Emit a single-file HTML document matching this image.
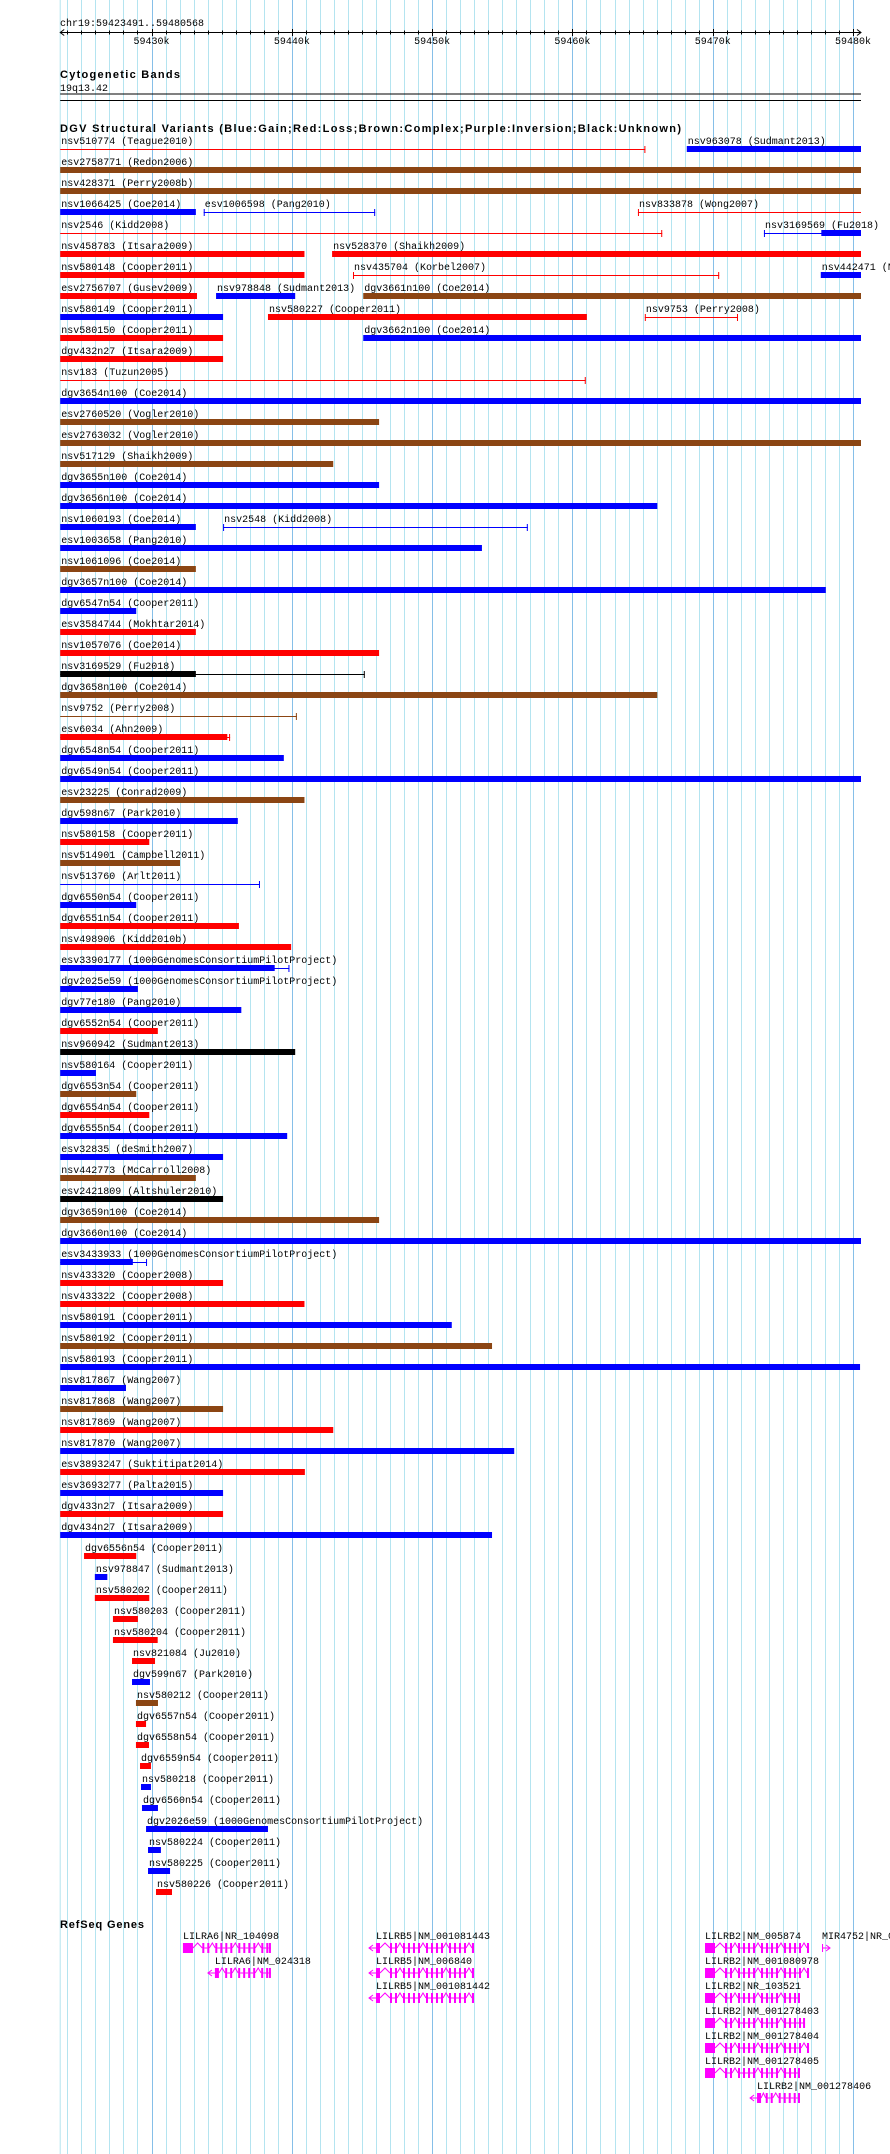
<!DOCTYPE html>
<html><head><meta charset="utf-8">
<style>
html,body{margin:0;padding:0;background:#fff;}
svg{display:block;}
text{font-family:"Liberation Mono","DejaVu Sans Mono",monospace;font-size:10px;fill:#000;}
.title{font-family:"Liberation Sans",sans-serif;font-weight:bold;font-size:11px;}
</style></head>
<body>
<svg id="chart" width="890" height="2154" viewBox="0 0 890 2154"></svg>
<script>
// ---- view ----
const viewStart = 59423.491, viewEnd = 59480.568; // kb
const tickLabels = ["59430k","59440k","59450k","59460k","59470k","59480k"];
const tickValues = [59430,59440,59450,59460,59470,59480];

// ---- DGV features ----
const S = 59423.491, E = 59480.568;
const featRows = [0,0,1,2,3,3,3,4,4,5,5,6,6,6,7,7,7,8,8,8,9,9,10,11,12,13,14,15,16,17,18,18,19,20,21,22,23,24,25,26,27,28,29,30,31,32,33,34,35,36,37,38,39,40,41,42,43,44,45,46,47,48,49,50,51,52,53,54,55,56,57,58,59,60,61,62,63,64,65,66,67,68,69,70,71,72,73,74,75,76,77,78,79,80,81,82,83];
const featNames = ["nsv510774","nsv963078","esv2758771","nsv428371","nsv1066425","esv1006598","nsv833878","nsv2546","nsv3169569","nsv458783","nsv528370","nsv580148","nsv435704","nsv442471","esv2756707","nsv978848","dgv3661n100","nsv580149","nsv580227","nsv9753","nsv580150","dgv3662n100","dgv432n27","nsv183","dgv3654n100","esv2760520","esv2763032","nsv517129","dgv3655n100","dgv3656n100","nsv1060193","nsv2548","esv1003658","nsv1061096","dgv3657n100","dgv6547n54","esv3584744","nsv1057076","nsv3169529","dgv3658n100","nsv9752","esv6034","dgv6548n54","dgv6549n54","esv23225","dgv598n67","nsv580158","nsv514901","nsv513760","dgv6550n54","dgv6551n54","nsv498906","esv3390177","dgv2025e59","dgv77e180","dgv6552n54","nsv960942","nsv580164","dgv6553n54","dgv6554n54","dgv6555n54","esv32835","nsv442773","esv2421809","dgv3659n100","dgv3660n100","esv3433933","nsv433320","nsv433322","nsv580191","nsv580192","nsv580193","nsv817867","nsv817868","nsv817869","nsv817870","esv3893247","esv3693277","dgv433n27","dgv434n27","dgv6556n54","nsv978847","nsv580202","nsv580203","nsv580204","nsv821084","dgv599n67","nsv580212","dgv6557n54","dgv6558n54","dgv6559n54","nsv580218","dgv6560n54","dgv2026e59","nsv580224","nsv580225","nsv580226"];
const featSources = ["Teague2010","Sudmant2013","Redon2006","Perry2008b","Coe2014","Pang2010","Wong2007","Kidd2008","Fu2018","Itsara2009","Shaikh2009","Cooper2011","Korbel2007","Nguyen2006","Gusev2009","Sudmant2013","Coe2014","Cooper2011","Cooper2011","Perry2008","Cooper2011","Coe2014","Itsara2009","Tuzun2005","Coe2014","Vogler2010","Vogler2010","Shaikh2009","Coe2014","Coe2014","Coe2014","Kidd2008","Pang2010","Coe2014","Coe2014","Cooper2011","Mokhtar2014","Coe2014","Fu2018","Coe2014","Perry2008","Ahn2009","Cooper2011","Cooper2011","Conrad2009","Park2010","Cooper2011","Campbell2011","Arlt2011","Cooper2011","Cooper2011","Kidd2010b","1000GenomesConsortiumPilotProject","1000GenomesConsortiumPilotProject","Pang2010","Cooper2011","Sudmant2013","Cooper2011","Cooper2011","Cooper2011","Cooper2011","deSmith2007","McCarroll2008","Altshuler2010","Coe2014","Coe2014","1000GenomesConsortiumPilotProject","Cooper2008","Cooper2008","Cooper2011","Cooper2011","Cooper2011","Wang2007","Wang2007","Wang2007","Wang2007","Suktitipat2014","Palta2015","Itsara2009","Itsara2009","Cooper2011","Sudmant2013","Cooper2011","Cooper2011","Cooper2011","Ju2010","Park2010","Cooper2011","Cooper2011","Cooper2011","Cooper2011","Cooper2011","Cooper2011","1000GenomesConsortiumPilotProject","Cooper2011","Cooper2011","Cooper2011"];
// type: G gain(blue) L loss(red) C complex(brown) U unknown(black)
const featTypes = ["L","G","C","C","G","G","L","L","G","L","L","L","L","G","L","G","C","G","L","L","L","G","L","L","G","C","C","C","G","G","G","G","G","C","G","G","L","L","U","C","C","L","G","G","C","G","L","C","G","G","L","L","G","G","G","L","U","G","C","L","G","G","C","U","C","G","G","L","L","G","C","G","G","C","L","G","L","G","L","G","L","G","L","L","L","L","G","C","L","L","L","G","G","G","G","G","L"];
const featStarts = [S,59468.15,S,S,S,59433.72,59464.67,S,59473.65,S,59442.87,S,59444.36,59477.70,S,59434.60,59445.09,S,59438.30,59465.16,S,59445.09,S,S,S,S,S,S,S,S,S,59435.10,S,S,S,S,S,S,S,S,S,S,S,S,S,S,S,S,S,S,S,S,S,S,S,S,S,S,S,S,S,S,S,S,S,S,S,S,S,S,S,S,S,S,S,S,S,S,S,S,59425.19,59425.96,59425.96,59427.25,59427.25,59428.61,59428.61,59428.89,59428.89,59428.89,59429.18,59429.25,59429.32,59429.61,59429.75,59429.75,59430.32];
const featEnds = [59465.20,E,E,E,59433.16,59445.94,E,59466.40,E,59440.90,E,59440.90,59470.46,E,59433.24,59440.24,E,59435.10,59461.03,59471.80,59435.10,E,59435.10,59460.95,E,59446.22,E,59442.95,59446.22,59466.05,59433.16,59456.82,59453.55,59433.16,59478.06,59428.91,59433.16,59446.22,59445.20,59466.05,59440.36,59435.60,59439.43,E,59440.90,59436.15,59429.84,59432.03,59437.73,59428.91,59436.23,59439.95,59439.83,59429.03,59436.40,59430.45,59440.24,59426.04,59428.91,59429.84,59439.67,59435.10,59433.16,59435.10,59446.22,E,59429.68,59435.10,59440.90,59451.40,59454.27,59480.50,59428.18,59435.10,59442.95,59455.85,59440.93,59435.10,59435.10,59454.27,59428.91,59426.85,59429.84,59429.03,59430.44,59430.25,59429.89,59430.46,59429.61,59429.82,59429.96,59429.96,59430.46,59438.30,59430.67,59431.32,59431.46];
// thick portion: null = whole bar thick, "line" = thin line only, [a,b] = thick range
const featThick = [ "line",null,null,null,null,"line","line","line",[59477.74,E],null,null,null,"line",null,null,null,null,null,null,"line",null,null,null,"line",null,null,null,null,null,null,null,"line",null,null,null,null,null,null,[S,59433.16],null,"line",[S,59435.40],null,null,null,null,null,null,"line",null,null,null,[S,59438.78],null,null,null,null,null,null,null,null,null,null,null,null,null,[S,59428.67],null,null,null,null,null,null,null,null,null,null,null,null,null,null,null,null,null,null,null,null,null,null,null,null,null,null,null,null,null,null];

// ---- RefSeq genes ----
const geneNames = ["LILRA6|NR_104098","LILRA6|NM_024318","LILRB5|NM_001081443","LILRB5|NM_006840","LILRB5|NM_001081442","LILRB2|NM_005874","LILRB2|NM_001080978","LILRB2|NR_103521","LILRB2|NM_001278403","LILRB2|NM_001278404","LILRB2|NM_001278405","LILRB2|NM_001278406","MIR4752|NR_039908"];
const geneRows = [0,1,0,1,2,0,1,2,3,4,5,6,0];
const geneStarts = [59432.24,59434.02,59445.50,59445.50,59445.50,59469.45,59469.45,59469.45,59469.45,59469.45,59469.45,59472.66,59477.79];
const geneEnds = [59438.51,59438.51,59452.98,59452.98,59452.98,59476.86,59476.86,59476.22,59476.58,59476.86,59476.22,59476.22,59478.36];
const geneArrowLeft = [false,true,true,true,true,false,false,false,false,false,false,true,false];

// ---- drawing ----
const svg = document.getElementById('chart');
const NS = 'http://www.w3.org/2000/svg';
const X0 = 60.2, X1 = 861;
function xs(kb){ return X0 + (kb - viewStart) / (viewEnd - viewStart) * (X1 - X0); }
function mk(tag, attrs, parent){ const e=document.createElementNS(NS,tag); for(const k in attrs) e.setAttribute(k,attrs[k]); (parent||svg).appendChild(e); return e; }
function txt(x,y,s,cls,parent){ const t=mk('text',{x:x,y:y},parent); if(cls) t.setAttribute('class',cls); t.textContent=s; return t; }
const colors = {G:'#0000ff',L:'#ff0000',C:'#8b4513',U:'#000000'};

// grid
const grid = mk('g',{});


mk('line',{x1:X0,y1:0,x2:X0,y2:2154,stroke:'#b4e4f0','stroke-width':1},grid);
for(let k=Math.ceil(viewStart); k<=viewEnd; k++){
  const x = Math.round(xs(k))+0.5;
  const major = (k%10===0);
  mk('line',{x1:x,y1:0,x2:x,y2:2154,stroke: major?'#86bfe8':'#b4e4f0','stroke-width':1},grid);
}

// header
const loc = txt(60,26,'chr19:59423491..59480568');


const axis = mk('g',{});


mk('line',{x1:X0,y1:32.5,x2:X1,y2:32.5,stroke:'#000'},axis);
mk('path',{d:`M${X0+4},29.5 L${X0},32.5 L${X0+4},35.5 M${X1-4},29.5 L${X1},32.5 L${X1-4},35.5`,stroke:'#000',fill:'none'},axis);
for(let k=Math.ceil(viewStart); k<=viewEnd; k++){
  const x = Math.round(xs(k))+0.5;
  const major = (k%10===0);
  mk('line',{x1:x,y1:major?29:30.5,x2:x,y2:major?36:34.5,stroke:'#000'},axis);
}
tickValues.forEach((v,i)=>{
  const t = txt(xs(v),44,tickLabels[i],null,axis);
  t.setAttribute('text-anchor','middle');
  
  
});

// cytogenetic bands
const cyt = txt(60,78,'Cytogenetic Bands','title');


cyt.setAttribute('textLength','120');
const band = txt(60,91,'19q13.42');


mk('line',{x1:X0,y1:94,x2:X1,y2:94,stroke:'#000'});
mk('line',{x1:X0,y1:100.5,x2:X1,y2:100.5,stroke:'#000'});

// DGV title
const dt = txt(60,132,'DGV Structural Variants (Blue:Gain;Red:Loss;Brown:Complex;Purple:Inversion;Black:Unknown)','title');


dt.setAttribute('textLength','621');

// features
const ROW0 = 149, ROWH = 21;
featNames.forEach((nm,i)=>{
  const y = ROW0 + featRows[i]*ROWH;
  const c = colors[featTypes[i]];
  const g = mk('g',{});
  
  
  const x1 = xs(featStarts[i]), x2 = Math.min(xs(featEnds[i]), X1);
  txt(x1+1, y-5, nm+' ('+featSources[i]+')', null, g);
  const th = featThick[i];
  if(th===null){
    mk('rect',{x:x1,y:y-3,width:Math.max(1,x2-x1),height:6,fill:c},g);
  } else {
    mk('line',{x1:x1,y1:y+0.5,x2:x2,y2:y+0.5,stroke:c,'stroke-width':1},g);
    if(featStarts[i] > viewStart+0.05) mk('line',{x1:x1+0.5,y1:y-3,x2:x1+0.5,y2:y+4,stroke:c},g);
    if(featEnds[i] < viewEnd-0.05) mk('line',{x1:x2-0.5,y1:y-3,x2:x2-0.5,y2:y+4,stroke:c},g);
    if(th!=="line"){
      const a = xs(th[0]), b = Math.min(xs(th[1]),X1);
      mk('rect',{x:a,y:y-3,width:b-a,height:6,fill:c},g);
    }
  }
});

// RefSeq genes
const rt = txt(60,1928,'RefSeq Genes','title');


rt.setAttribute('textLength','84');
const GROW0 = 1948, GROWH = 25, MAG = '#ff00ff';
geneNames.forEach((nm,i)=>{
  const y = GROW0 + geneRows[i]*GROWH;
  const x1 = xs(geneStarts[i]), x2 = xs(geneEnds[i]);
  const g = mk('g',{});
  
  
  const left = geneArrowLeft[i];
  txt(x1 + (left?7:0), y-9, nm, null, g);
  if(nm.startsWith('MIR')){
    mk('path',{d:`M${x1+0.5},${y-4} V${y+4} M${x1},${y} H${x2} M${x2-4},${y-3} L${x2},${y} L${x2-4},${y+3}`,stroke:MAG,fill:'none'},g);
    return;
  }
  let x = x1;
  if(left){
    mk('path',{d:`M${x1+4},${y-3} L${x1},${y} L${x1+4},${y+3} M${x1},${y} H${x1+7}`,stroke:MAG,fill:'none'},g);
    x = x1+7;
    mk('rect',{x:x,y:y-5,width:4,height:10,fill:MAG},g);
    x += 4;
  } else {
    mk('rect',{x:x,y:y-5,width:10,height:10,fill:MAG},g);
    x += 10;
  }
  // intron chevron then exon ticks
  const span = x2 - x;
  const chev = Math.min(10, span*0.12);
  mk('path',{d:`M${x},${y} L${x+chev/2},${y-5} L${x+chev},${y}`,stroke:MAG,fill:'none'},g);
  x += chev;
  let step = 0;
  while(x < x2-1){
    mk('rect',{x:x,y:y-5,width:2,height:10,fill:MAG},g);
    const gap = (step%4===1) ? 6 : 3;
    if(step%4===1 && x+2+gap < x2) mk('path',{d:`M${x+2},${y} L${x+2+gap/2},${y-5} L${x+2+gap},${y}`,stroke:MAG,fill:'none'},g);
    else mk('line',{x1:x+2,y1:y,x2:Math.min(x+2+gap,x2),y2:y,stroke:MAG},g);
    x += 2+gap; step++;
  }
  mk('rect',{x:x2-2,y:y-5,width:2,height:10,fill:MAG},g);
});
</script>
</body></html>
